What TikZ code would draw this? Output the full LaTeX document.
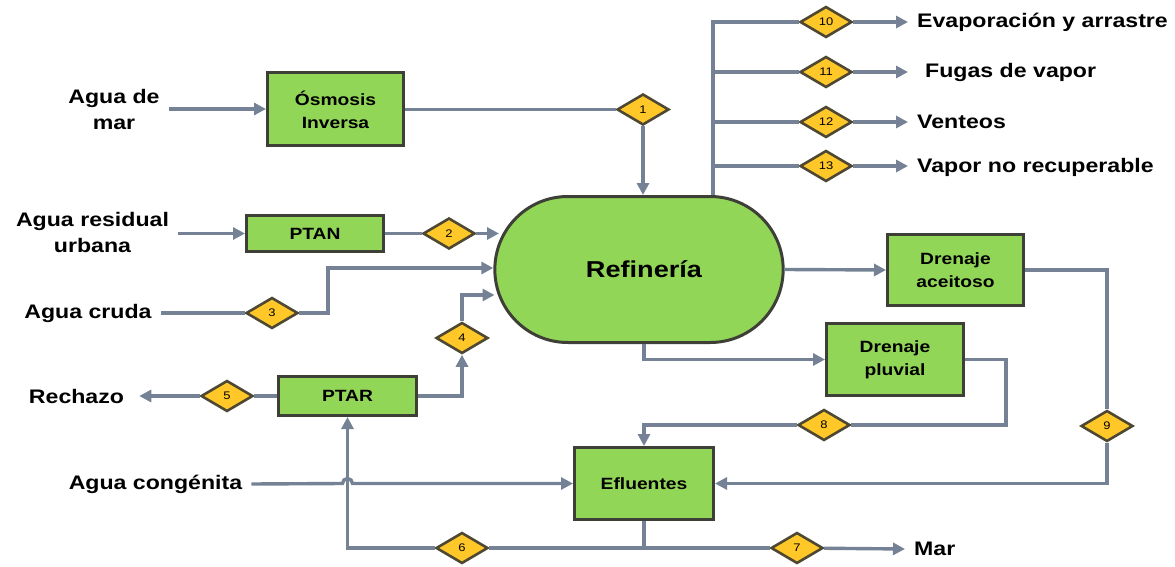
\documentclass[tikz,border=0pt]{standalone}
\usepackage{fontspec}
\setmainfont[FakeStretch=1.18]{Liberation Sans}
\usetikzlibrary{arrows.meta,shapes.geometric,shapes.misc}

\definecolor{flow}{RGB}{117,130,150}
\definecolor{leaf}{RGB}{146,214,88}
\definecolor{edge}{RGB}{62,64,56}
\definecolor{amber}{RGB}{255,200,40}
\definecolor{amberedge}{RGB}{78,72,50}

\begin{document}
\begin{tikzpicture}[x=1pt,y=-1pt,
  flowline/.style={draw=flow,line width=3.4pt},
  arr/.style={flowline,-{Triangle[length=12pt,width=12pt]}},
  procbox/.style={rectangle,draw=edge,fill=leaf,line width=3pt,align=center,
    font=\fontsize{16.3}{23}\selectfont\bfseries,inner sep=0pt},
  tag/.style={diamond,draw=amberedge,fill=amber,line width=2.6pt,inner sep=0pt,
    minimum width=52pt,minimum height=31pt,font=\fontsize{11}{12}\selectfont},
  extlabel/.style={align=center,font=\fontsize{19.6}{26}\selectfont\bfseries,
    inner xsep=9pt,inner ysep=0pt}]
\useasboundingbox (0,0) rectangle (1175,567);

% process units
\node[rounded rectangle,draw=edge,fill=leaf,line width=3pt,minimum width=295pt,
  minimum height=146pt] (ref) at (639,269.5) {};
\node[font=\fontsize{23}{26}\selectfont\bfseries] (reftext) at ([xshift=5pt]ref.center) {Refinería};
\node[procbox,minimum width=136pt,minimum height=73pt] (osm) at (335.5,109.5) {Ósmosis\\Inversa};
\node[procbox,minimum width=137pt,minimum height=36pt] (ptan) at (315,233.5) {PTAN};
\node[procbox,minimum width=138pt,minimum height=39pt] (ptar) at (347.5,396) {PTAR};
\node[procbox,minimum width=139pt,minimum height=72pt] (efl) at (644,483.5) {Efluentes};
\node[procbox,minimum width=136pt,minimum height=71pt] (dac) at (955.5,270) {Drenaje\\aceitoso};
\node[procbox,minimum width=137pt,minimum height=72pt] (dpl) at (895,359.5) {Drenaje\\pluvial};

% stream tags
\node[tag] (d1) at (643,109.5) {1};
\node[tag] (d2) at (449,233.5) {2};
\node[tag] (d3) at (272,313) {3};
\node[tag] (d4) at (462,338) {4};
\node[tag] (d5) at (227,396) {5};
\node[tag] (d6) at (462,548) {6};
\node[tag] (d7) at (797,548) {7};
\node[tag] (d8) at (824,425) {8};
\node[tag] (d9) at (1107,426) {9};
\node[tag] (d10) at (826,22) {10};
\node[tag] (d11) at (826,72) {11};
\node[tag] (d12) at (826,122) {12};
\node[tag] (d13) at (826,166) {13};

% sources and sinks
\node[extlabel] (sea) at (114,109) {Agua de\\mar};
\node[extlabel] (aru) at (92.5,232) {Agua residual\\urbana};
\node[extlabel] (acr) at (88,313) {Agua cruda};
\node[extlabel] (rech) at (76.5,396) {Rechazo};
\node[extlabel] (agc) at (155.5,484) {Agua congénita};
\node[extlabel,anchor=west] (ev) at (908,22) {Evaporación y arrastre};
\node[extlabel,anchor=west] (fv) at (916,72) {Fugas de vapor};
\node[extlabel,anchor=west] (vt) at (908,122) {Venteos};
\node[extlabel,anchor=west] (vnr) at (908,167) {Vapor no recuperable};
\node[extlabel,anchor=west] (mar) at (905,549) {Mar};

% helper points
\coordinate (top) at (713,22);
\coordinate (r2) at (499,233.5);
\coordinate (c3) at (328,268);
\coordinate (c4) at (462,295);
\coordinate (r4) at (494.5,295);
\coordinate (c8) at (1006,425);
\coordinate (hop) at (ptar.south |- efl.west);

% inlet streams
\draw[arr] (sea.east) -- (sea.east -| osm.west);
\draw[flowline] (osm.east) -- (d1);
\draw[arr] (d1) -- (d1 |- ref.north);
\draw[arr] (aru.east |- ptan.west) -- (ptan.west);
\draw[flowline] (ptan) -- (d2);
\draw[arr] (d2) -- (r2);
\draw[flowline] (acr) -- (d3);
\draw[arr] (d3) -| (c3) -- (c3 -| ref.west);
\draw[arr] (ptar.east) -| (d4.south);
\draw[arr] (d4.north) -- (c4) -- (r4);
\draw[flowline] (ptar) -- (d5);
\draw[arr,shorten >=6pt] (d5) -- (rech.east);

% steam losses
\draw[flowline] (ref.north -| top) -- (top) -- (d10);
\draw[flowline] (d11 -| top) -- (d11);
\draw[flowline] (d12 -| top) -- (d12);
\draw[flowline] (d13 -| top) -- (d13);
\draw[arr] (d10) -- (ev.west);
\draw[arr] (d11) -- (d11 -| ev.west);
\draw[arr] (d12) -- (vt.west);
\draw[arr] (d13) -- (d13 -| vnr.west);

% drains
\draw[arr] (ref.east) -- (dac.west);
\draw[flowline] (dac.east) -| (d9.north);
\draw[arr] (d9.south) |- (efl.east);
\draw[arr] ([xshift=5pt]ref.south) |- (dpl.west);
\draw[flowline] (dpl.east) -| (c8) -- (d8);
\draw[arr] (d8) -| (efl.north);

% effluents
\draw[arr] (agc.east) -- ([xshift=-5pt]hop) arc[start angle=180,end angle=0,radius=5pt] -- (efl.west);
\draw[flowline] (efl.south) -- (efl.south |- d6);
\draw[flowline] (d6) -- (d7);
\draw[arr] (d6) -| (ptar.south);
\draw[arr] (d7) -- (mar.west);
\end{tikzpicture}
\end{document}
